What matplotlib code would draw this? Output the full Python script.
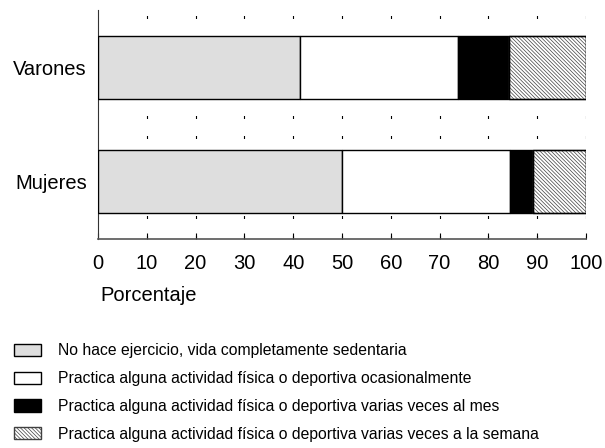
import matplotlib
matplotlib.use('Agg')
import numpy as np
import matplotlib.pyplot as plt

plt.rcParams['font.family'] = ['Liberation Sans', 'DejaVu Sans']
plt.rcParams['hatch.linewidth'] = 0.5

# datos (porcentajes)
grupos = ['Mujeres', 'Varones']
sedentaria = [50.0, 41.4]
ocasional = [34.4, 32.4]
mensual = [4.8, 10.4]
semanal = [10.8, 15.8]

etiquetas = ['No hace ejercicio, vida completamente sedentaria',
             'Practica alguna actividad física o deportiva ocasionalmente',
             'Practica alguna actividad física o deportiva varias veces al mes',
             'Practica alguna actividad física o deportiva varias veces a la semana']

fig = plt.figure(figsize=(6.05, 4.48), dpi=100)
ax = fig.add_axes([98/605, 1-239/448, 488/605, 229/448])

y = np.array([0, 1])
h = 0.55
left = np.zeros(2)
estilos = [dict(color='#dedede'), dict(color='white'), dict(color='black'),
           dict(color='white', hatch='\\' * 9)]
handles = []
for vals, st in zip([sedentaria, ocasional, mensual, semanal], estilos):
    kw = dict(facecolor=st['color'], edgecolor='black', linewidth=1.0, zorder=3)
    if 'hatch' in st:
        kw['hatch'] = st['hatch']
        kw['edgecolor'] = '#404040'
    b = ax.barh(y, vals, height=h, left=left, **kw)
    if 'hatch' in st:
        # contorno negro encima del rayado
        ax.barh(y, vals, height=h, left=left, facecolor='none',
                edgecolor='black', linewidth=1.0, zorder=4)
    handles.append(b)
    left = left + np.array(vals)

ax.set_xlim(0, 100)
ax.set_ylim(-0.5, 1.5)
ax.set_xticks(np.arange(0, 101, 10))
ax.set_yticks(y)
ax.set_yticklabels(grupos)
ax.tick_params(axis='x', direction='in', length=4, labelsize=14.5, pad=11, color='black')
ax.tick_params(axis='y', length=0, labelsize=14.5, pad=8)

# líneas de guía punteadas
for xv in range(10, 101, 10):
    ax.axvline(xv, color='black', linewidth=0.8, linestyle=(17.55, (2.7, 15.3)), zorder=1)

ax.spines['top'].set_visible(False)
ax.spines['right'].set_visible(False)
ax.spines['bottom'].set_color('#555555')
ax.spines['bottom'].set_linewidth(1.2)
ax.spines['left'].set_color('#333333')

ax.set_xlabel('Porcentaje', fontsize=14.5, loc='left')
ax.xaxis.set_label_coords(0.004, -0.205)

leg = fig.legend(handles, etiquetas, loc='upper left', bbox_to_anchor=(0.0, 0.265),
                 frameon=False, fontsize=11.3, handlelength=1.72, handleheight=0.83,
                 labelspacing=0.81, handletextpad=1.08)

fig.savefig('out.png', dpi=100)
